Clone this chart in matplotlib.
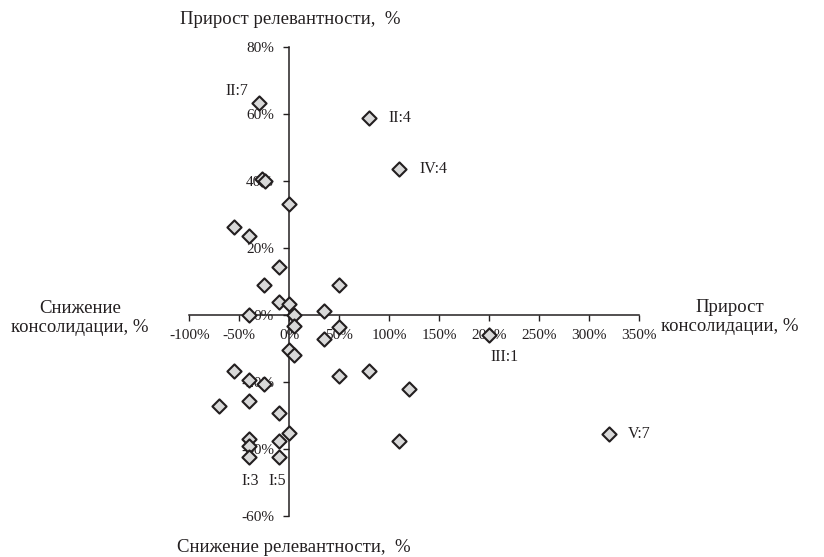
import matplotlib.pyplot as plt

plt.rcParams['font.family'] = ['Liberation Serif', 'DejaVu Serif']
plt.rcParams['axes.unicode_minus'] = False

TEXT_COLOR = '#231f20'

# Прирост консолидации (x) и прирост релевантности (y), %
consolidation = [-30, -27, -24, 0, -55, -40, -10, -25, 50, -10, 0, -40, 5, 35,
                 5, 50, 35, 0, 5, -55, -40, -25, 50, -70, -40, -10, 0, -40,
                 -10, -40, -40, -10, 80, 110, 80, 120, 200, 110, 320]
relevance = [63.5, 40.5, 40, 33.3, 26.3, 23.6, 14.2, 9, 9, 4, 3.3, 0, 0, 1.3,
             -3.2, -3.5, -7.1, -10.4, -12, -16.9, -19.5, -20.7, -18.2, -27.2, -25.8, -29.4, -35.4, -37.1,
             -37.6, -39.1, -42.6, -42.6, 59, 43.5, -16.9, -22.1, -5.9, -37.6, -35.5]

# подписанные точки
point_names = ['II:7', 'II:4', 'IV:4', 'III:1', 'V:7', 'I:3', 'I:5']
point_x = [-30, 80, 110, 200, 320, -40, -10]
point_y = [63.5, 59, 43.5, -5.9, -35.5, -42.6, -42.6]

x_ticks = list(range(-100, 351, 50))
y_ticks = list(range(-60, 81, 20))

W, H = 824, 557
fig = plt.figure(figsize=(W / 100, H / 100), dpi=100)
ax = fig.add_axes([189.3 / W, 1 - 515.7 / H, 450 / W, 468.4 / H])

ax.scatter(consolidation, relevance, marker='D', s=52, facecolor='#d9d9d9',
           edgecolor=TEXT_COLOR, linewidth=1.5, zorder=3, clip_on=False)

# offsets in points: (dx, dy, ha, va)
offsets = {
    'II:7': (-8, 8.6, 'right', 'center'),
    'II:4': (13.7, 0, 'left', 'center'),
    'IV:4': (14.4, 0, 'left', 'center'),
    'III:1': (10.8, -15.8, 'center', 'center'),
    'V:7': (13, 0, 'left', 'center'),
    'I:3': (0.4, -17, 'center', 'center'),
    'I:5': (-1.3, -17, 'center', 'center'),
}
for name, x, y in zip(point_names, point_x, point_y):
    dx, dy, ha, va = offsets[name]
    ax.annotate(name, (x, y), xytext=(dx, dy), textcoords='offset points',
                ha=ha, va=va, fontsize=11.5, color=TEXT_COLOR)

ax.set_xlim(-100, 350)
ax.set_ylim(-60, 80)
ax.set_xticks(x_ticks)
ax.set_yticks(y_ticks)
ax.set_xticklabels([f'{v}%' for v in x_ticks])
ax.set_yticklabels([f'{v}%' for v in y_ticks])

ax.spines['left'].set_position(('data', 0))
ax.spines['bottom'].set_position(('data', 0))
ax.spines['right'].set_visible(False)
ax.spines['top'].set_visible(False)
for sp in ('left', 'bottom'):
    ax.spines[sp].set_color(TEXT_COLOR)
    ax.spines[sp].set_linewidth(1.1)

ax.tick_params(axis='both', direction='out', length=4, width=1.0,
               color=TEXT_COLOR, labelcolor=TEXT_COLOR, labelsize=11)
ax.tick_params(axis='x', pad=6)
ax.tick_params(axis='y', pad=7)
ax.patch.set_visible(False)

# подписи осей
fig.text(290 / W, 1 - 19 / H, 'Прирост релевантности,  %', ha='center', va='center',
         fontsize=13.5, color=TEXT_COLOR)
fig.text(294 / W, 1 - 547 / H, 'Снижение релевантности,  %', ha='center', va='center',
         fontsize=13.5, color=TEXT_COLOR)
fig.text(80 / W, 1 - 318 / H, 'Снижение\nконсолидации, %', ha='center', va='center',
         fontsize=13.5, color=TEXT_COLOR, linespacing=1.15)
fig.text(730 / W, 1 - 317 / H, 'Прирост\nконсолидации, %', ha='center', va='center',
         fontsize=13.5, color=TEXT_COLOR, linespacing=1.15)

fig.savefig('out.png', dpi=100)
